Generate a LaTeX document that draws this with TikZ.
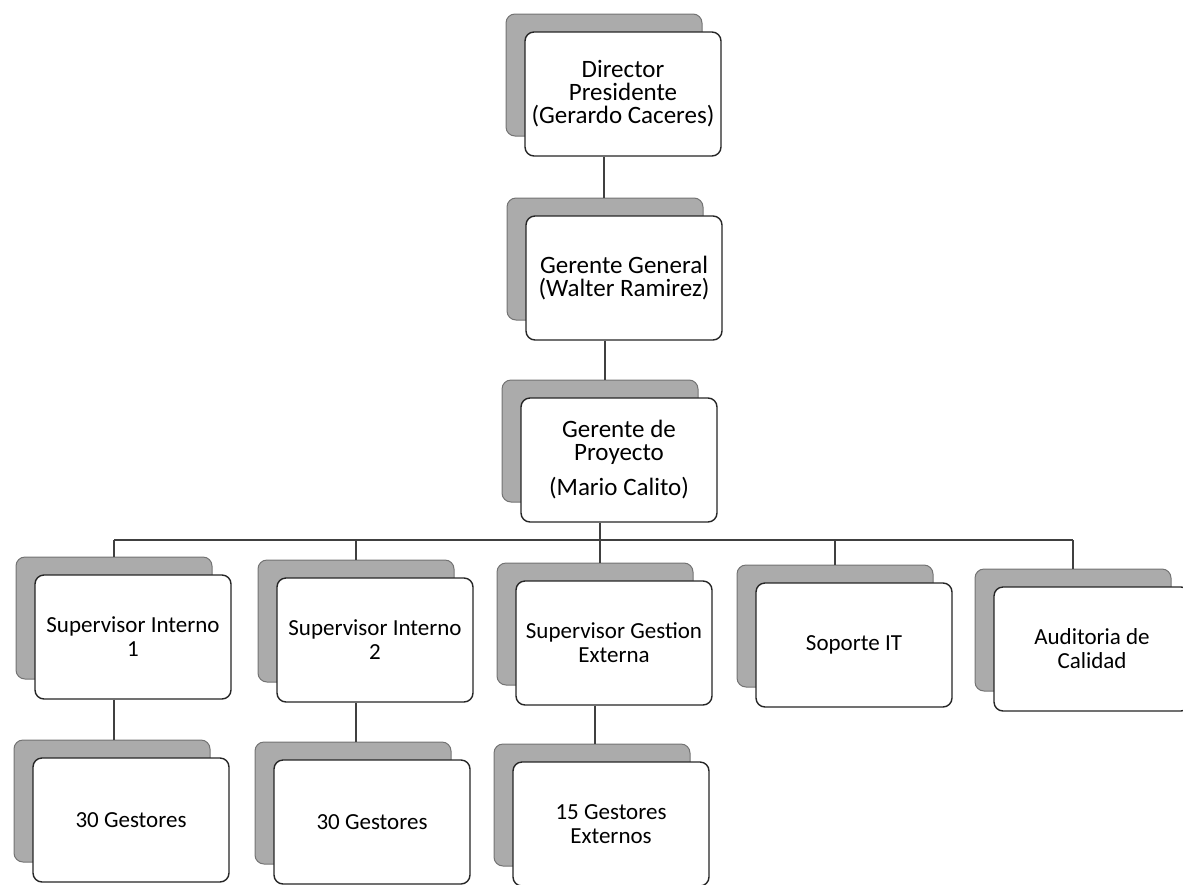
\documentclass[tikz,border=0pt]{standalone}
\usepackage{fontspec}
\setmainfont{Carlito}
\newcommand{\bigtxt}{\fontsize{12.5}{11.5}\selectfont}
\newcommand{\smalltxt}{\fontsize{11.5}{12}\selectfont}
\tikzset{
  backcard/.style={draw=black!55,fill=black!33,rounded corners=4.5pt,line width=0.5pt,
    minimum width=98pt,minimum height=61pt,inner sep=0pt},
  frontcard/.style={draw=black!85,fill=white,rounded corners=4.5pt,line width=0.7pt,
    minimum width=98pt,minimum height=62pt,inner sep=0pt,align=center,font=\smalltxt},
  tie/.style={draw=black!75,line width=0.6pt}
}
\begin{document}
\begin{tikzpicture}[x=0.5pt,y=-0.5pt]
\useasboundingbox (0,0) rectangle (1183,884);
\clip (0,0) rectangle (1183,884);
%top
\node[backcard] (dirs) at (604,75) {};
\node[frontcard,font=\bigtxt] (dir) at (623,94) {Director\\Presidente\\(Gerardo Caceres)};
\node[backcard] (ggs) at (605,259) {};
\node[frontcard,font=\bigtxt] (gg) at (624,278) {Gerente General\\(Walter Ramirez)};
\node[backcard] (gps) at (600,441) {};
\node[frontcard,font=\bigtxt] (gp) at (619,460) {Gerente de\\Proyecto\\[6pt](Mario Calito)};
%supervisores
\node[backcard] (s1s) at (114,618) {};
\node[frontcard] (s1) at (133,637) {Supervisor Interno\\1};
\node[backcard] (s2s) at (356,621) {};
\node[frontcard] (s2) at (375,640) {Supervisor Interno\\2};
\node[backcard] (s3s) at (595,624) {};
\node[frontcard] (s3) at (614,643) {Supervisor Gestion\\Externa};
\node[backcard] (its) at (835,626) {};
\node[frontcard] (it) at (854,645) {Soporte IT};
\node[backcard] (auds) at (1073,630) {};
\node[frontcard] (aud) at (1092,649) {Auditoria de\\Calidad};
%gestores
\node[backcard] (g1s) at (112,801) {};
\node[frontcard] (g1) at (131,820) {30 Gestores};
\node[backcard] (g2s) at (353,803) {};
\node[frontcard] (g2) at (372,822) {30 Gestores};
\node[backcard] (g3s) at (592,805) {};
\node[frontcard] (g3) at (611,824) {15 Gestores\\Externos};
%lines
\draw[tie] (dir.south -| dirs.center) -- (ggs.north -| dirs.center);
\draw[tie] (gg.south -| ggs.center) -- (gps.north -| ggs.center);
\coordinate (bus) at (600,540);
\draw[tie] (gp.south -| gps.center) -- (s3s.north -| gps.center);
\draw[tie] (bus -| s1s.center) -- (bus -| auds.center);
\foreach \k in {s1s,s2s,its,auds}
  \draw[tie] (bus -| \k.center) -- (\k.north);
\draw[tie] (s1.south -| s1s.center) -- (g1s.north -| s1s.center);
\draw[tie] (s2.south -| s2s.center) -- (g2s.north -| s2s.center);
\draw[tie] (s3.south -| s3s.center) -- (g3s.north -| s3s.center);
\end{tikzpicture}
\end{document}
